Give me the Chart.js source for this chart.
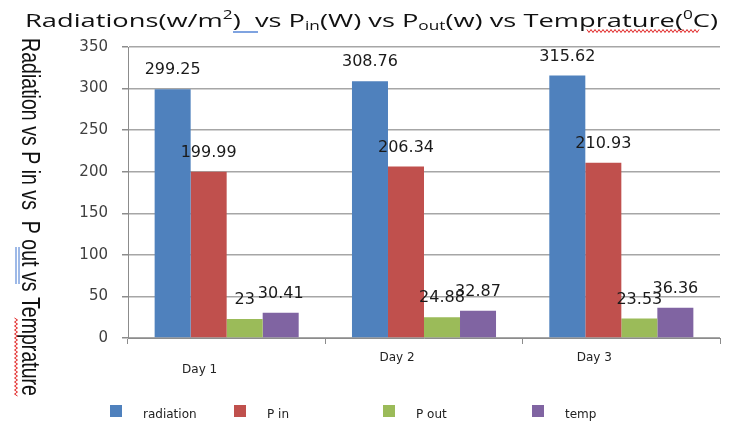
<!DOCTYPE html>
<html>
<head>
<meta charset="utf-8">
<style>
  html, body { margin: 0; padding: 0; background: #fff; }
  #wrap { width: 736px; height: 423px; }
</style>
</head>
<body>
<div id="wrap"><canvas id="chart" width="736" height="423"></canvas></div>
<script src="https://cdn.jsdelivr.net/npm/chart.js"></script>
<script>
  const days = ["Day 1", "Day 2", "Day 3"];
  const radiation = [299.25, 308.76, 315.62];
  const pIn = [199.99, 206.34, 210.93];
  const pOut = [23, 24.88, 23.53];
  const temp = [30.41, 32.87, 36.36];
  const yTicks = [0, 50, 100, 150, 200, 250, 300, 350];

  const seriesNames = ["radiation", "P in", "P out", "temp"];
  const seriesColors = ["#4f81bd", "#c0504d", "#9bbb59", "#8064a2"];

  // title pieces with sub/superscripts
  const titleParts = [
    { t: "Radiations(w/m" }, { t: "2", sup: true }, { t: ")  vs P" },
    { t: "in", sub: true }, { t: "(W) vs P" }, { t: "out", sub: true },
    { t: "(w) vs Temprature(" }, { t: "0", sup: true }, { t: "C)" }
  ];
  const yTitle = "Radiation vs P in vs  P out vs Temprature";

  function wavy(ctx, x0, x1, y, vertical) {
    ctx.beginPath();
    let i = 0;
    for (let p = x0; p <= x1; p += 2, i++) {
      const o = (i % 2) ? 1.5 : -1.5;
      if (vertical) ctx.lineTo(y + o, p); else ctx.lineTo(p, y + o);
    }
    ctx.stroke();
  }

  const decorations = {
    id: "decorations",
    afterDraw(chart) {
      const ctx = chart.ctx;
      ctx.save();

      // title
      const big = 19, small = 12;
      let w = 0;
      titleParts.forEach(p => {
        ctx.font = (p.sub || p.sup ? small : big) + "px 'Open Sans'";
        p.w = ctx.measureText(p.t).width;
        w += p.w;
      });
      const sx = 693 / w;
      ctx.translate(25, 27);
      ctx.scale(sx, 1);
      let x = 0;
      ctx.fillStyle = "#111";
      ctx.textBaseline = "alphabetic";
      titleParts.forEach(p => {
        ctx.font = (p.sub || p.sup ? small : big) + "px 'Open Sans'";
        const dy = p.sup ? -8 : p.sub ? 3 : 0;
        ctx.fillText(p.t, x, dy);
        x += p.w;
      });
      ctx.setTransform(1, 0, 0, 1, 0, 0);
      ctx.lineWidth = 2;
      ctx.strokeStyle = "#7fa3e0";
      ctx.beginPath(); ctx.moveTo(233, 32); ctx.lineTo(258, 32); ctx.stroke();
      ctx.lineWidth = 1;
      ctx.strokeStyle = "#e02020";
      wavy(ctx, 587, 700, 31, false);

      // vertical axis title
      ctx.font = "26px 'Liberation Sans Narrow', 'Liberation Sans'";
      const tw = ctx.measureText(yTitle).width;
      ctx.translate(22, 38);
      ctx.rotate(Math.PI / 2);
      ctx.scale(358 / tw, 1);
      ctx.fillStyle = "#111";
      ctx.fillText(yTitle, 0, 0);
      ctx.setTransform(1, 0, 0, 1, 0, 0);
      ctx.lineWidth = 1.5;
      ctx.strokeStyle = "#7fa3e0";
      ctx.beginPath();
      ctx.moveTo(16, 247); ctx.lineTo(16, 284);
      ctx.moveTo(19, 247); ctx.lineTo(19, 284);
      ctx.stroke();
      ctx.lineWidth = 1;
      ctx.strokeStyle = "#e02020";
      wavy(ctx, 318, 397, 16, true);

      // legend
      const lx = [110, 234, 383, 532];
      ctx.font = "12px 'DejaVu Sans'";
      ctx.textBaseline = "middle";
      chart.data.datasets.forEach((ds, i) => {
        ctx.fillStyle = ds.backgroundColor;
        ctx.fillRect(lx[i], 405, 12, 12);
        ctx.fillStyle = "#222";
        ctx.fillText(ds.label, lx[i] + 33, 415);
      });
      ctx.restore();
    }
  };

  const valueLabels = {
    id: "valueLabels",
    afterDatasetsDraw(chart) {
      const ctx = chart.ctx;
      ctx.save();
      ctx.font = "16px 'DejaVu Sans'";
      ctx.fillStyle = "#1a1a1a";
      ctx.textAlign = "center";
      ctx.textBaseline = "middle";
      chart.data.datasets.forEach((ds, i) => {
        chart.getDatasetMeta(i).data.forEach((bar, j) => {
          ctx.fillText(String(ds.data[j]), bar.x, bar.y - 19);
        });
      });
      ctx.restore();
    }
  };

  new Chart(document.getElementById("chart"), {
    type: "bar",
    data: {
      labels: days,
      datasets: [radiation, pIn, pOut, temp].map((d, i) => ({
        label: seriesNames[i],
        data: d,
        backgroundColor: seriesColors[i],
        categoryPercentage: 0.73,
        barPercentage: 1.0
      }))
    },
    options: {
      responsive: false,
      animation: false,
      layout: { padding: { top: 47, right: 16, bottom: 0, left: 0 } },
      plugins: { legend: { display: false }, title: { display: false }, tooltip: { enabled: false } },
      scales: {
        x: {
          afterFit: s => { s.height = 85; },
          grid: { drawOnChartArea: false, tickLength: 6, color: "#8c8c8c", offset: true },
          border: { color: "#8c8c8c", width: 1 },
          ticks: {
            font: { family: "DejaVu Sans", size: 12, lineHeight: 1.0 },
            color: "#222",
            padding: 8,
            labelOffset: -27,
            maxRotation: 0,
            callback: (v, i) => i === 0 ? ["", days[i]] : days[i]
          }
        },
        y: {
          min: yTicks[0],
          max: yTicks[yTicks.length - 1],
          afterFit: s => { s.width = 128; },
          afterBuildTicks: s => { s.ticks = yTicks.map(v => ({ value: v })); },
          grid: { color: "#a6a6a6", lineWidth: 1.5, tickLength: 6, tickColor: "#8c8c8c" },
          border: { color: "#8c8c8c", width: 1 },
          ticks: {
            font: { family: "DejaVu Sans", size: 15 },
            color: "#404040",
            padding: 14
          }
        }
      }
    },
    plugins: [valueLabels, decorations]
  });
</script>
</body>
</html>
